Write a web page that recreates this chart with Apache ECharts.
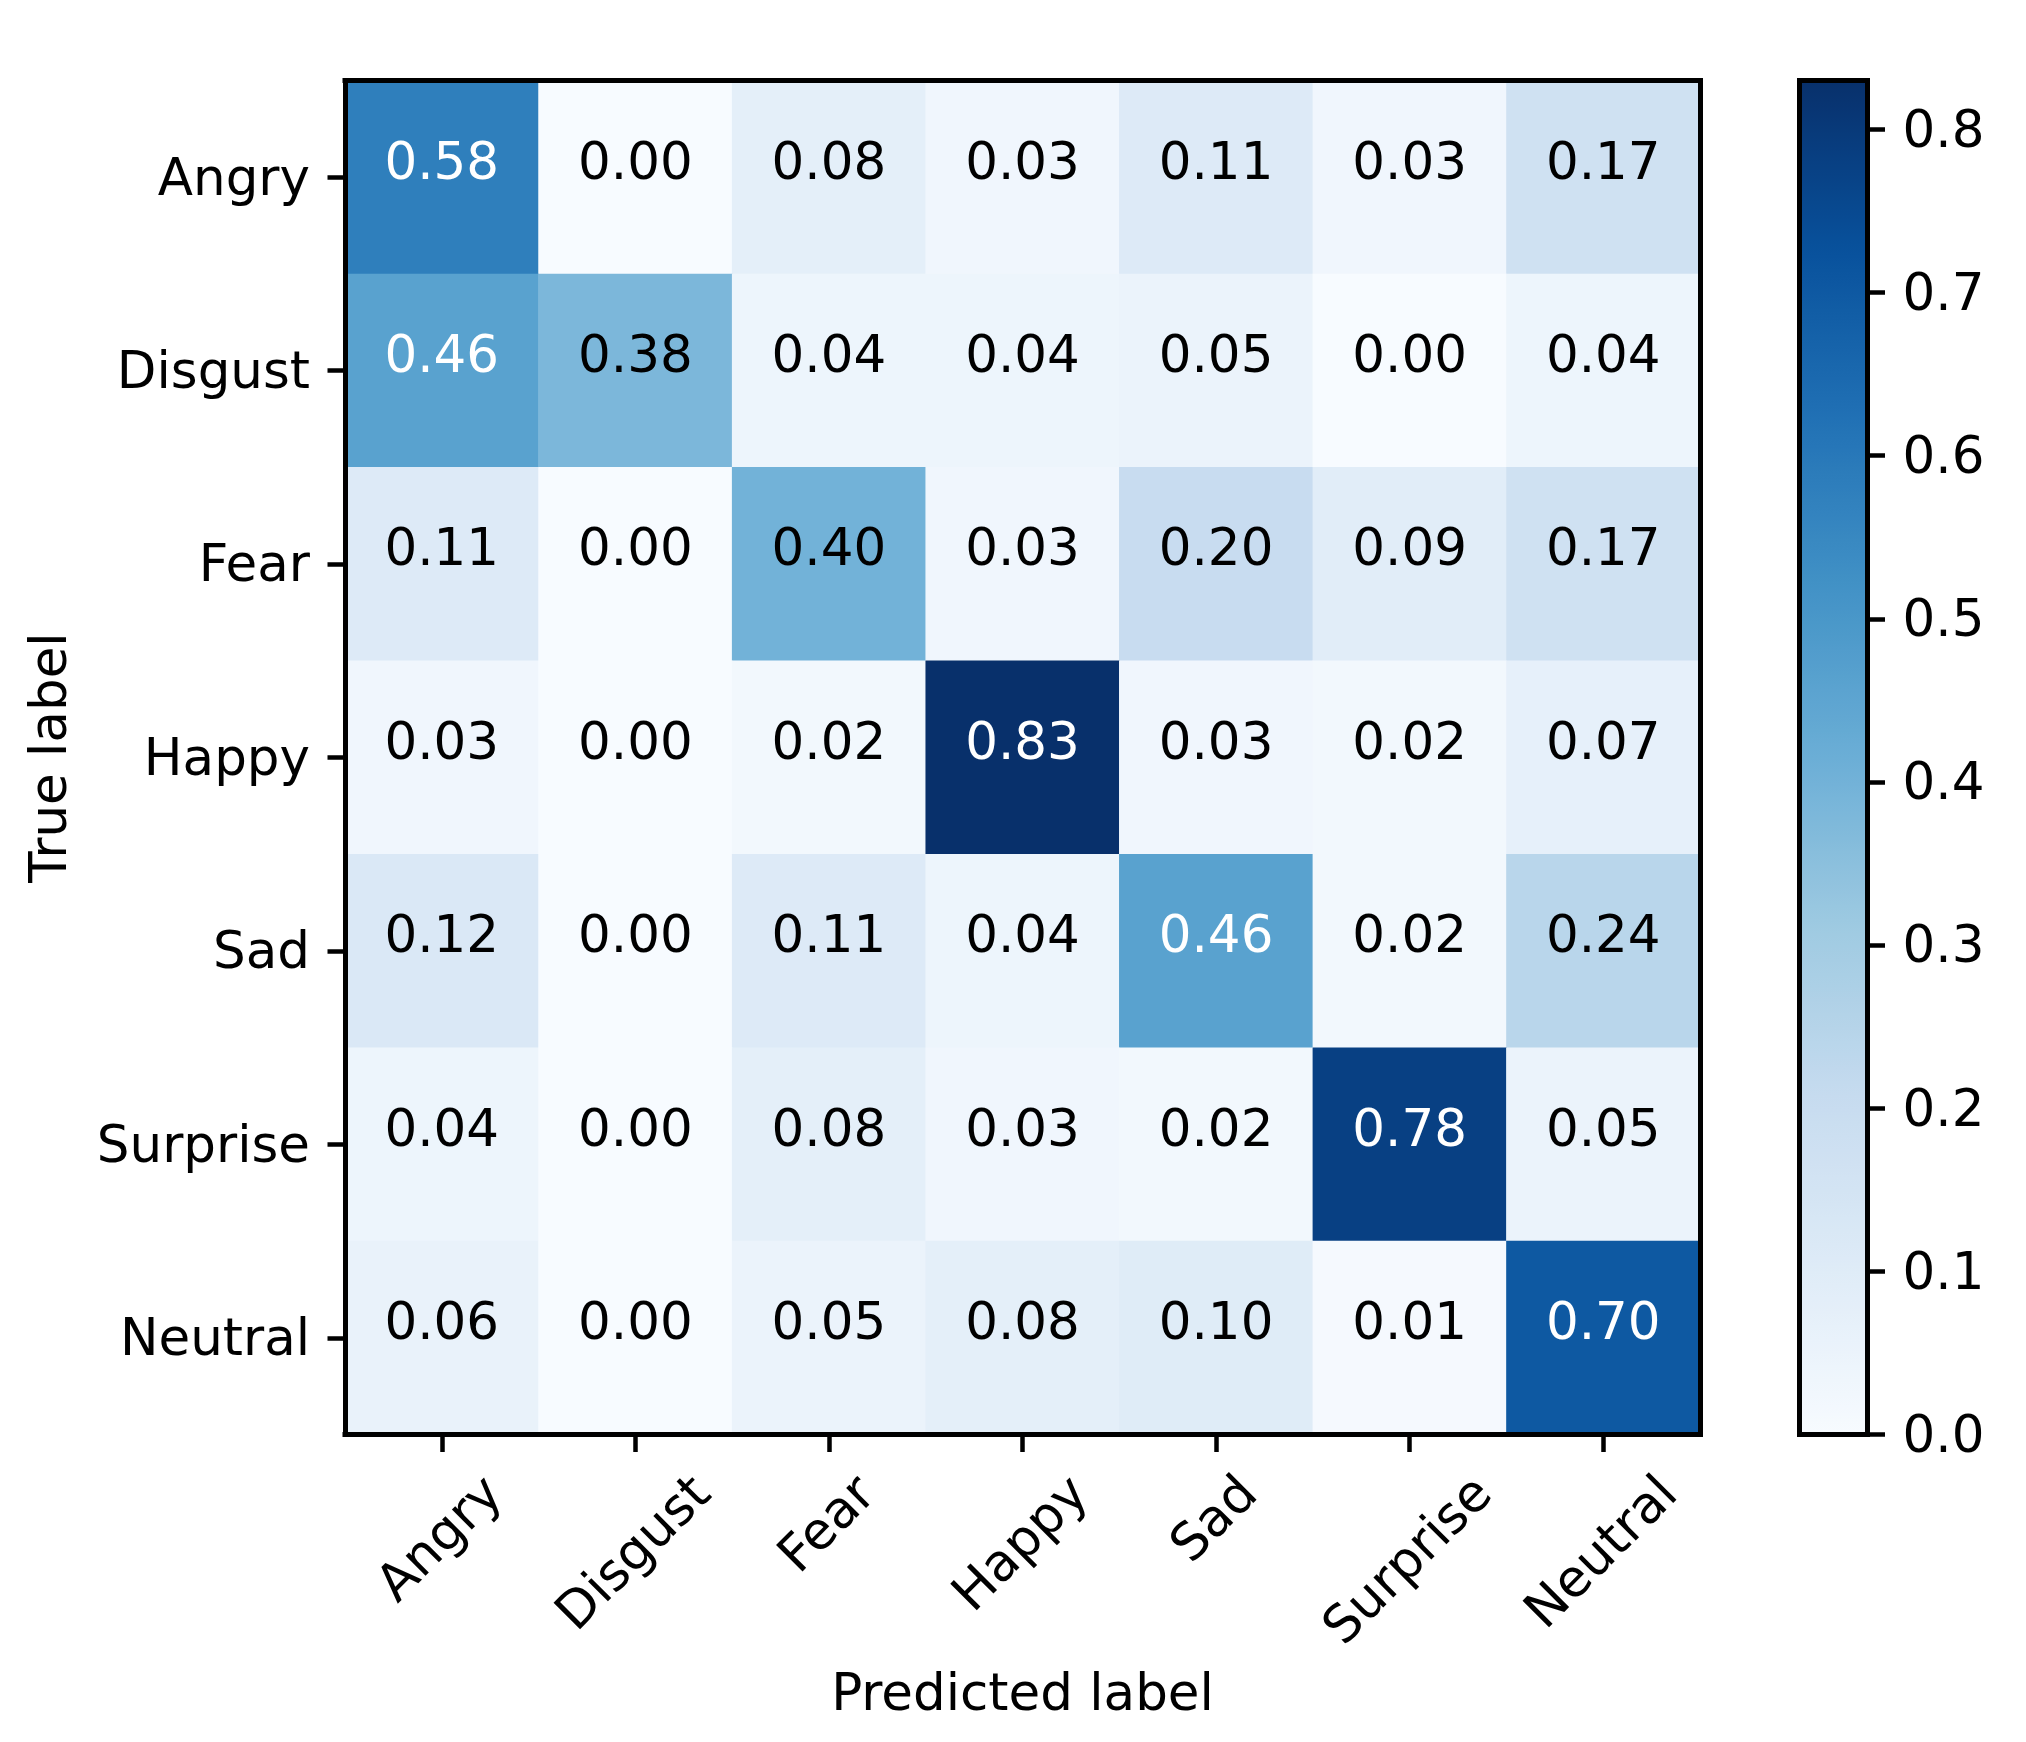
<!DOCTYPE html>
<html>
<head>
<meta charset="utf-8">
<script src="https://cdn.jsdelivr.net/npm/echarts@6/dist/echarts.min.js"></script>
<style>
html,body{margin:0;padding:0;background:#ffffff;}
#chart{width:2026px;height:1742px;}
</style>
</head>
<body>
<div id="chart"></div>
<script>
// ---- data ----
const predictedLabels = ['Angry', 'Disgust', 'Fear', 'Happy', 'Sad', 'Surprise', 'Neutral'];
const trueLabels = ['Angry', 'Disgust', 'Fear', 'Happy', 'Sad', 'Surprise', 'Neutral'];

const rowAngry    = [0.58, 0.00, 0.08, 0.03, 0.11, 0.03, 0.17];
const rowDisgust  = [0.46, 0.38, 0.04, 0.04, 0.05, 0.00, 0.04];
const rowFear     = [0.11, 0.00, 0.40, 0.03, 0.20, 0.09, 0.17];
const rowHappy    = [0.03, 0.00, 0.02, 0.83, 0.03, 0.02, 0.07];
const rowSad      = [0.12, 0.00, 0.11, 0.04, 0.46, 0.02, 0.24];
const rowSurprise = [0.04, 0.00, 0.08, 0.03, 0.02, 0.78, 0.05];
const rowNeutral  = [0.06, 0.00, 0.05, 0.08, 0.10, 0.01, 0.70];

const colorbarTicks = [0.0, 0.1, 0.2, 0.3, 0.4, 0.5, 0.6, 0.7, 0.8];
const colorMin = 0.0;
const colorMax = 0.83;

// matplotlib "Blues"
const bluesColors = ['#f7fbff', '#deebf7', '#c6dbef', '#9ecae1', '#6baed6', '#4292c6', '#2171b5', '#08519c', '#08306b'];

// ---- build ----
const rows = [rowAngry, rowDisgust, rowFear, rowHappy, rowSad, rowSurprise, rowNeutral];
const threshold = (colorMin + colorMax) / 2;
const cells = [];
rows.forEach((row, i) => {
  row.forEach((v, j) => {
    cells.push({ value: [j, i, v], label: { color: v > threshold ? '#ffffff' : '#000000' } });
  });
});

const FONT = 'DejaVu Sans';
const FS = 51.5;
const L = 345, T = 80.5, W = 1355, H = 1354;
const CB_L = 1799.5, CB_W = 68;
const LW = 5;

// rotated x labels: emulate matplotlib centered bbox below tick
const ctx = document.createElement('canvas').getContext('2d');
ctx.font = FS + 'px "' + FONT + '"';
const boxH = 49;
const rich = {};
predictedLabels.forEach((s, i) => {
  const w = ctx.measureText(s).width;
  const p = (w + boxH) / 2;
  rich['r' + i] = { padding: [p, p, 0, 0], fontSize: FS, fontFamily: FONT, color: '#000' };
});
const richDown = { d: { padding: [8, 0, 0, 0], fontSize: FS, fontFamily: FONT, color: '#000' } };

const axisLine = { show: true, onZero: false, lineStyle: { color: '#000', width: LW, cap: 'square' } };
const tick = { show: true, length: 17.5, lineStyle: { color: '#000', width: 4.5 } };
const textBase = { fontSize: FS, fontFamily: FONT, color: '#000' };

const chart = echarts.init(document.getElementById('chart'), null, { renderer: 'canvas' });
chart.setOption({
  animation: false,
  backgroundColor: '#ffffff',
  grid: [
    { left: L, top: T, width: W, height: H, containLabel: false },
    { left: CB_L, top: T, width: CB_W, height: H, containLabel: false }
  ],
  xAxis: [
    {
      type: 'category', gridIndex: 0, position: 'bottom', data: predictedLabels, z: 10,
      axisLine: axisLine,
      axisTick: Object.assign({ alignWithLabel: true }, tick),
      axisLabel: Object.assign({
        show: true, interval: 0, rotate: 45, align: 'center', verticalAlign: 'middle', margin: 35,
        formatter: (v, i) => '{r' + i + '|' + v + '}', rich: rich, hideOverlap: false
      }, textBase),
      splitLine: { show: false },
      name: 'Predicted label', nameLocation: 'middle', nameGap: 262.5,
      nameTextStyle: Object.assign({ align: 'center', verticalAlign: 'middle' }, textBase)
    },
    {
      type: 'category', gridIndex: 0, position: 'top', data: predictedLabels, z: 10,
      axisLine: axisLine, axisTick: { show: false }, axisLabel: { show: false }, splitLine: { show: false }
    },
    {
      type: 'value', gridIndex: 1, position: 'bottom', min: 0, max: 1, z: 10,
      axisLine: axisLine, axisTick: { show: false }, axisLabel: { show: false }, splitLine: { show: false }
    },
    {
      type: 'value', gridIndex: 1, position: 'top', min: 0, max: 1, z: 10,
      axisLine: axisLine, axisTick: { show: false }, axisLabel: { show: false }, splitLine: { show: false }
    }
  ],
  yAxis: [
    {
      type: 'category', gridIndex: 0, position: 'left', data: trueLabels, inverse: true, z: 10,
      axisLine: axisLine,
      axisTick: Object.assign({ alignWithLabel: true }, tick),
      axisLabel: Object.assign({ show: true, interval: 0, margin: 35, formatter: v => '{d|' + v + '}', rich: richDown }, textBase),
      splitLine: { show: false },
      name: 'True label', nameLocation: 'middle', nameGap: 292, nameRotate: 90,
      nameTextStyle: Object.assign({ align: 'center', verticalAlign: 'middle' }, textBase)
    },
    {
      type: 'category', gridIndex: 0, position: 'right', data: trueLabels, inverse: true, z: 10,
      axisLine: axisLine, axisTick: { show: false }, axisLabel: { show: false }, splitLine: { show: false }
    },
    {
      type: 'value', gridIndex: 1, position: 'right', min: colorMin, max: colorMax, z: 10,
      axisLine: axisLine,
      axisTick: Object.assign({ customValues: colorbarTicks }, tick),
      axisLabel: Object.assign({ show: true, margin: 35, customValues: colorbarTicks, formatter: v => '{d|' + v.toFixed(1) + '}', rich: richDown }, textBase),
      splitLine: { show: false }
    },
    {
      type: 'value', gridIndex: 1, position: 'left', min: colorMin, max: colorMax, z: 10,
      axisLine: axisLine, axisTick: { show: false }, axisLabel: { show: false }, splitLine: { show: false }
    }
  ],
  visualMap: {
    type: 'continuous', min: colorMin, max: colorMax, seriesIndex: 0, dimension: 2,
    inRange: { color: bluesColors },
    orient: 'vertical', left: CB_L, top: T, itemWidth: CB_W, itemHeight: H,
    padding: 0, calculable: false, hoverLink: false, showLabel: false
  },
  series: [{
    type: 'heatmap', xAxisIndex: 0, yAxisIndex: 0, data: cells,
    itemStyle: { borderWidth: 0 },
    emphasis: { disabled: true },
    label: {
      show: true, fontSize: FS, fontFamily: FONT, offset: [0, -12],
      formatter: p => p.value[2].toFixed(2)
    }
  }]
});
</script>
</body>
</html>
